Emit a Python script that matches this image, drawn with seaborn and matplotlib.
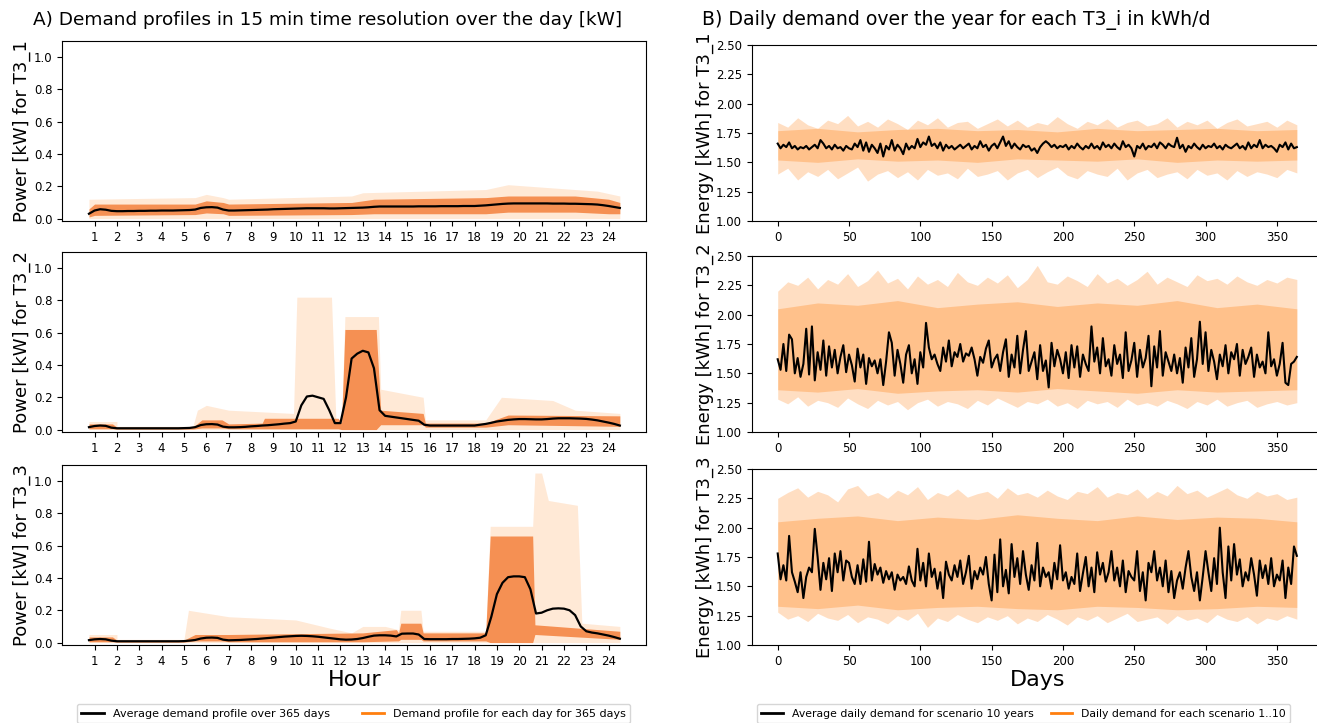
import numpy as np
import pandas as pd
import seaborn as sns
import matplotlib.pyplot as plt
from matplotlib.lines import Line2D

# ---- A) daily profiles, 15 min steps (0.75 h .. 24.5 h) ----
hours = np.arange(0.75, 24.51, 0.25)

avg_t31 = [0.030,
           0.050, 0.058, 0.055, 0.048, 0.046, 0.046, 0.047, 0.047,
           0.048, 0.048, 0.049, 0.049, 0.050, 0.050, 0.050, 0.051,
           0.052, 0.053, 0.056, 0.066, 0.070, 0.071, 0.068, 0.056,
           0.050, 0.050, 0.051, 0.052, 0.053, 0.054, 0.055, 0.056,
           0.058, 0.059, 0.060, 0.061, 0.062, 0.063, 0.064, 0.064,
           0.064, 0.064, 0.063, 0.063, 0.064, 0.065, 0.066, 0.067,
           0.068, 0.070, 0.073, 0.075, 0.075, 0.075, 0.075, 0.075,
           0.075, 0.075, 0.076, 0.076, 0.076, 0.076, 0.077, 0.077,
           0.077, 0.077, 0.078, 0.078, 0.078, 0.080, 0.082, 0.085,
           0.088, 0.091, 0.093, 0.094, 0.094, 0.094, 0.094, 0.094,
           0.094, 0.094, 0.093, 0.093, 0.093, 0.092, 0.092, 0.091,
           0.090, 0.089, 0.087, 0.083, 0.078, 0.072, 0.066]
avg_t32 = [0.015,
           0.022, 0.025, 0.023, 0.012, 0.008, 0.008, 0.008, 0.008,
           0.008, 0.008, 0.008, 0.008, 0.008, 0.008, 0.008, 0.008,
           0.009, 0.010, 0.015, 0.028, 0.033, 0.034, 0.031, 0.018,
           0.014, 0.014, 0.015, 0.017, 0.020, 0.022, 0.025, 0.027,
           0.030, 0.033, 0.037, 0.040, 0.050, 0.150, 0.205, 0.210,
           0.200, 0.190, 0.120, 0.040, 0.040, 0.200, 0.440, 0.470,
           0.488, 0.478, 0.380, 0.120, 0.085, 0.080, 0.075, 0.070,
           0.065, 0.060, 0.055, 0.030, 0.025, 0.025, 0.025, 0.025,
           0.025, 0.025, 0.025, 0.025, 0.025, 0.030, 0.035, 0.042,
           0.050, 0.055, 0.060, 0.063, 0.065, 0.065, 0.064, 0.063,
           0.063, 0.065, 0.068, 0.070, 0.070, 0.070, 0.069, 0.068,
           0.066, 0.062, 0.057, 0.050, 0.043, 0.035, 0.025]
avg_t33 = [0.015,
           0.020, 0.022, 0.020, 0.012, 0.008, 0.008, 0.008, 0.008,
           0.008, 0.008, 0.008, 0.008, 0.008, 0.008, 0.008, 0.008,
           0.009, 0.012, 0.016, 0.025, 0.030, 0.031, 0.029, 0.018,
           0.014, 0.015, 0.016, 0.018, 0.020, 0.022, 0.025, 0.028,
           0.031, 0.034, 0.037, 0.039, 0.041, 0.042, 0.041, 0.039,
           0.036, 0.032, 0.028, 0.024, 0.020, 0.018, 0.019, 0.022,
           0.028, 0.036, 0.043, 0.045, 0.045, 0.043, 0.038, 0.055,
           0.056, 0.056, 0.050, 0.022, 0.021, 0.021, 0.021, 0.021,
           0.022, 0.022, 0.023, 0.024, 0.026, 0.030, 0.045, 0.160,
           0.300, 0.370, 0.405, 0.410, 0.410, 0.405, 0.330, 0.180,
           0.185, 0.200, 0.210, 0.212, 0.210, 0.200, 0.170, 0.100,
           0.070, 0.062, 0.057, 0.050, 0.043, 0.034, 0.024]

# faint upper envelope of the 365 daily profiles
peak_x_t31 = [0.75, 5.5, 6.0, 6.75, 7.0, 12.5, 13.0, 18.5, 19.5, 21.5, 23.5, 24.5]
peak_hi_t31 = [0.12, 0.13, 0.15, 0.13, 0.12, 0.14, 0.16, 0.18, 0.21, 0.19, 0.17, 0.14]
peak_x_t32 = [0.75, 2.0, 2.0, 5.4, 5.6, 6.0, 7.0, 9.9, 10.05, 11.6, 11.8, 12.05,
              12.2, 13.7, 13.8, 15.7, 15.8, 18.5, 19.2, 21.5, 22.5, 24.5]
peak_hi_t32 = [0.05, 0.05, 0.02, 0.02, 0.12, 0.15, 0.12, 0.10, 0.82, 0.82, 0.05, 0.05,
               0.70, 0.70, 0.25, 0.20, 0.06, 0.06, 0.20, 0.18, 0.12, 0.10]
peak_x_t33 = [0.75, 2.0, 2.0, 5.0, 5.2, 7.0, 10.0, 11.5, 12.5, 13.0, 14.0, 14.6,
              14.7, 15.6, 15.7, 18.5, 18.7, 20.6, 20.7, 21.0, 21.3, 22.6, 22.8, 24.5]
peak_hi_t33 = [0.05, 0.05, 0.02, 0.02, 0.20, 0.16, 0.14, 0.09, 0.06, 0.10, 0.10, 0.08,
               0.20, 0.20, 0.07, 0.07, 0.72, 0.72, 1.05, 1.05, 0.88, 0.85, 0.12, 0.10]

# dense core of the daily profiles
core_x_t31 = [0.75, 1.0, 5.5, 6.0, 6.75, 7.0, 12.5, 13.5, 18.5, 19.5, 22.5, 24.0, 24.5]
core_lo_t31 = [0.01, 0.02, 0.025, 0.035, 0.03, 0.02, 0.025, 0.03, 0.03, 0.04, 0.04, 0.03, 0.03]
core_hi_t31 = [0.06, 0.09, 0.09, 0.11, 0.10, 0.09, 0.10, 0.12, 0.13, 0.14, 0.14, 0.12, 0.10]
core_x_t32 = [0.75, 1.8, 2.0, 5.4, 5.8, 6.7, 7.0, 8.5, 8.6, 11.9, 12.05, 12.2, 13.6,
              13.8, 15.7, 15.8, 18.5, 19.5, 24.5]
core_lo_t32 = [0.005, 0.005, 0.003, 0.003, 0.01, 0.01, 0.005, 0.005, 0.005, 0.005, 0.0,
               0.0, 0.0, 0.03, 0.03, 0.015, 0.015, 0.03, 0.02]
core_hi_t32 = [0.035, 0.035, 0.015, 0.015, 0.06, 0.06, 0.035, 0.04, 0.07, 0.07, 0.04,
               0.62, 0.62, 0.12, 0.10, 0.04, 0.04, 0.09, 0.085]
core_x_t33 = [0.75, 1.8, 2.0, 5.0, 5.5, 6.7, 7.0, 13.0, 14.5, 14.6, 14.7, 15.6, 15.7,
              18.5, 18.7, 20.6, 20.7, 24.5]
core_lo_t33 = [0.005, 0.005, 0.003, 0.003, 0.01, 0.01, 0.005, 0.005, 0.01, 0.01, 0.02,
               0.02, 0.01, 0.01, 0.0, 0.0, 0.05, 0.02]
core_hi_t33 = [0.035, 0.035, 0.015, 0.015, 0.05, 0.05, 0.05, 0.06, 0.08, 0.06, 0.12,
               0.12, 0.06, 0.06, 0.66, 0.66, 0.11, 0.07]

# ---- B) daily energy over the year (read every 2nd day) ----
days = np.arange(0, 365, 2)
daily_t31 = [1.66, 1.62, 1.65, 1.63, 1.67, 1.62, 1.64, 1.61, 1.63, 1.62,
             1.64, 1.61, 1.63, 1.65, 1.62, 1.69, 1.66, 1.62, 1.64, 1.61,
             1.65, 1.62, 1.63, 1.60, 1.64, 1.62, 1.61, 1.66, 1.63, 1.69,
             1.60, 1.67, 1.59, 1.65, 1.62, 1.58, 1.66, 1.55, 1.64, 1.61,
             1.69, 1.60, 1.65, 1.62, 1.57, 1.66, 1.61, 1.64, 1.62, 1.70,
             1.63, 1.67, 1.65, 1.72, 1.64, 1.66, 1.62, 1.67, 1.60, 1.65,
             1.62, 1.64, 1.61, 1.63, 1.65, 1.62, 1.64, 1.66, 1.61, 1.64,
             1.62, 1.68, 1.63, 1.65, 1.60, 1.64, 1.66, 1.62, 1.67, 1.72,
             1.64, 1.68, 1.62, 1.66, 1.63, 1.61, 1.65, 1.63, 1.64, 1.60,
             1.62, 1.58, 1.63, 1.66, 1.68, 1.66, 1.63, 1.65, 1.62, 1.64,
             1.63, 1.65, 1.61, 1.64, 1.62, 1.66, 1.63, 1.61, 1.64, 1.62,
             1.66, 1.62, 1.64, 1.61, 1.67, 1.63, 1.65, 1.62, 1.66, 1.63,
             1.61, 1.68, 1.63, 1.65, 1.62, 1.55, 1.64, 1.62, 1.66, 1.61,
             1.64, 1.63, 1.66, 1.62, 1.67, 1.65, 1.62, 1.66, 1.64, 1.63,
             1.71, 1.62, 1.65, 1.59, 1.64, 1.62, 1.66, 1.63, 1.61, 1.65,
             1.62, 1.64, 1.63, 1.66, 1.62, 1.64, 1.61, 1.65, 1.63, 1.62,
             1.64, 1.66, 1.62, 1.64, 1.61, 1.67, 1.62, 1.65, 1.63, 1.69,
             1.62, 1.65, 1.63, 1.64, 1.62, 1.59, 1.65, 1.63, 1.67, 1.61,
             1.66, 1.62, 1.63]
daily_t32 = [1.62, 1.53, 1.75, 1.52, 1.83, 1.79, 1.50, 1.63, 1.47, 1.58,
             1.88, 1.49, 1.90, 1.44, 1.68, 1.53, 1.78, 1.48, 1.73, 1.55,
             1.70, 1.50, 1.64, 1.74, 1.51, 1.66, 1.57, 1.43, 1.71, 1.55,
             1.66, 1.41, 1.63, 1.56, 1.61, 1.50, 1.62, 1.40, 1.60, 1.85,
             1.76, 1.48, 1.70, 1.58, 1.42, 1.66, 1.74, 1.50, 1.62, 1.41,
             1.68, 1.55, 1.93, 1.72, 1.62, 1.66, 1.58, 1.52, 1.72, 1.60,
             1.78, 1.56, 1.68, 1.64, 1.75, 1.60, 1.67, 1.65, 1.72, 1.62,
             1.48, 1.64, 1.59, 1.71, 1.78, 1.55, 1.62, 1.66, 1.52, 1.68,
             1.79, 1.47, 1.66, 1.55, 1.82, 1.50, 1.70, 1.86, 1.52, 1.60,
             1.68, 1.45, 1.74, 1.52, 1.61, 1.38, 1.76, 1.56, 1.70, 1.62,
             1.50, 1.68, 1.46, 1.74, 1.55, 1.73, 1.47, 1.66, 1.58, 1.52,
             1.90, 1.60, 1.72, 1.50, 1.80, 1.56, 1.62, 1.48, 1.74, 1.58,
             1.66, 1.46, 1.85, 1.52, 1.61, 1.76, 1.47, 1.70, 1.55, 1.63,
             1.82, 1.39, 1.73, 1.55, 1.86, 1.48, 1.68, 1.60, 1.52, 1.66,
             1.50, 1.63, 1.42, 1.72, 1.55, 1.80, 1.47, 1.62, 1.94, 1.58,
             1.85, 1.52, 1.70, 1.60, 1.45, 1.66, 1.56, 1.74, 1.50, 1.68,
             1.62, 1.75, 1.48, 1.70, 1.58, 1.64, 1.72, 1.47, 1.66, 1.55,
             1.60, 1.50, 1.85, 1.56, 1.62, 1.48, 1.58, 1.76, 1.42, 1.40,
             1.58, 1.60, 1.64]
daily_t33 = [1.78, 1.56, 1.68, 1.55, 1.93, 1.62, 1.54, 1.45, 1.62, 1.40,
             1.58, 1.66, 1.62, 1.99, 1.75, 1.47, 1.70, 1.56, 1.74, 1.46,
             1.78, 1.62, 1.80, 1.55, 1.72, 1.70, 1.58, 1.52, 1.68, 1.52,
             1.73, 1.54, 1.88, 1.55, 1.69, 1.60, 1.66, 1.53, 1.63, 1.56,
             1.62, 1.47, 1.60, 1.55, 1.58, 1.52, 1.67, 1.55, 1.50, 1.82,
             1.55, 1.70, 1.50, 1.78, 1.58, 1.65, 1.48, 1.62, 1.40, 1.71,
             1.60, 1.55, 1.68, 1.58, 1.72, 1.52, 1.62, 1.76, 1.48, 1.63,
             1.56, 1.66, 1.60, 1.75, 1.52, 1.38, 1.77, 1.45, 1.90, 1.50,
             1.64, 1.44, 1.86, 1.58, 1.74, 1.52, 1.80, 1.60, 1.47, 1.68,
             1.55, 1.87, 1.50, 1.66, 1.58, 1.62, 1.48, 1.70, 1.56, 1.85,
             1.55, 1.62, 1.48, 1.58, 1.52, 1.78, 1.46, 1.61, 1.75, 1.50,
             1.66, 1.45, 1.79, 1.60, 1.70, 1.54, 1.62, 1.80, 1.55, 1.66,
             1.50, 1.72, 1.45, 1.63, 1.58, 1.55, 1.80, 1.46, 1.62, 1.38,
             1.70, 1.62, 1.80, 1.55, 1.66, 1.50, 1.72, 1.45, 1.63, 1.40,
             1.55, 1.62, 1.48, 1.66, 1.80, 1.58, 1.46, 1.62, 1.38, 1.58,
             1.80, 1.62, 1.46, 1.74, 1.52, 2.00, 1.62, 1.40, 1.84, 1.55,
             1.86, 1.60, 1.73, 1.50, 1.62, 1.55, 1.74, 1.60, 1.42, 1.72,
             1.57, 1.68, 1.52, 1.74, 1.50, 1.60, 1.55, 1.72, 1.40, 1.66,
             1.52, 1.84, 1.76]

# spread of the 10 scenarios (outer, weekly) and dense part (every 4 weeks)
week_days = np.arange(0, 365, 7)
hi_t31 = [1.84, 1.80, 1.88, 1.82, 1.79, 1.86, 1.83, 1.90, 1.81, 1.85, 1.80, 1.87, 1.83, 1.78,
          1.86, 1.82, 1.88, 1.80, 1.84, 1.85, 1.79, 1.83, 1.87, 1.81, 1.86, 1.80, 1.84, 1.82,
          1.89, 1.83, 1.79, 1.85, 1.82, 1.87, 1.80, 1.84, 1.86, 1.81, 1.83, 1.88, 1.80, 1.85,
          1.82, 1.86, 1.79, 1.84, 1.87, 1.81, 1.83, 1.85, 1.80, 1.86, 1.82]
lo_t31 = [1.40, 1.45, 1.35, 1.42, 1.38, 1.44, 1.36, 1.41, 1.46, 1.34, 1.40, 1.43, 1.37, 1.42,
          1.35, 1.44, 1.39, 1.41, 1.36, 1.45, 1.38, 1.40, 1.43, 1.35, 1.41, 1.44, 1.37, 1.42,
          1.46, 1.39, 1.36, 1.43, 1.40, 1.38, 1.45, 1.35, 1.41, 1.44, 1.37, 1.40, 1.42, 1.36,
          1.44, 1.39, 1.41, 1.35, 1.43, 1.38, 1.42, 1.40, 1.37, 1.44, 1.41]
hi_t32 = [2.20, 2.28, 2.25, 2.32, 2.22, 2.30, 2.26, 2.35, 2.24, 2.29, 2.38, 2.27, 2.31, 2.22,
          2.33, 2.26, 2.30, 2.24, 2.36, 2.28, 2.25, 2.32, 2.27, 2.34, 2.23, 2.30, 2.42, 2.28,
          2.26, 2.33, 2.29, 2.24, 2.35, 2.27, 2.31, 2.25, 2.30, 2.37, 2.26, 2.32, 2.28, 2.24,
          2.34, 2.29, 2.31, 2.26, 2.33, 2.28, 2.25, 2.30, 2.27, 2.32, 2.30]
lo_t32 = [1.28, 1.24, 1.30, 1.22, 1.27, 1.25, 1.21, 1.29, 1.24, 1.20, 1.27, 1.23, 1.26, 1.19,
          1.25, 1.28, 1.22, 1.26, 1.24, 1.20, 1.27, 1.23, 1.29, 1.25, 1.21, 1.26, 1.24, 1.28,
          1.22, 1.25, 1.20, 1.27, 1.24, 1.26, 1.21, 1.28, 1.23, 1.25, 1.22, 1.27, 1.24, 1.20,
          1.26, 1.23, 1.28, 1.22, 1.25, 1.27, 1.21, 1.24, 1.26, 1.23, 1.25]
hi_t33 = [2.25, 2.30, 2.34, 2.26, 2.31, 2.28, 2.22, 2.33, 2.36, 2.27, 2.30, 2.25, 2.32, 2.28,
          2.35, 2.24, 2.30, 2.27, 2.33, 2.26, 2.29, 2.31, 2.25, 2.34, 2.28, 2.30, 2.26, 2.32,
          2.27, 2.24, 2.31, 2.29, 2.35, 2.26, 2.30, 2.28, 2.33, 2.25, 2.31, 2.27, 2.36, 2.29,
          2.32, 2.26, 2.30, 2.34, 2.28, 2.25, 2.31, 2.27, 2.29, 2.24, 2.26]
lo_t33 = [1.28, 1.22, 1.25, 1.20, 1.27, 1.23, 1.21, 1.26, 1.19, 1.24, 1.22, 1.18, 1.25, 1.21,
          1.27, 1.15, 1.23, 1.20, 1.26, 1.22, 1.19, 1.24, 1.21, 1.25, 1.18, 1.23, 1.20, 1.26,
          1.22, 1.17, 1.24, 1.21, 1.25, 1.19, 1.23, 1.27, 1.20, 1.22, 1.24, 1.18, 1.25, 1.21,
          1.23, 1.19, 1.26, 1.22, 1.20, 1.24, 1.18, 1.23, 1.21, 1.25, 1.22]

month_days = np.arange(0, 365, 28)
in_lo_t31 = [1.52, 1.50, 1.53, 1.51, 1.52, 1.50, 1.53, 1.52, 1.51, 1.53, 1.50, 1.52, 1.51, 1.52]
in_hi_t31 = [1.77, 1.79, 1.76, 1.78, 1.79, 1.77, 1.78, 1.76, 1.79, 1.77, 1.78, 1.79, 1.77, 1.78]
in_lo_t32 = [1.36, 1.34, 1.37, 1.33, 1.35, 1.36, 1.34, 1.37, 1.35, 1.33, 1.36, 1.34, 1.35, 1.36]
in_hi_t32 = [2.05, 2.10, 2.08, 2.12, 2.06, 2.09, 2.11, 2.07, 2.10, 2.08, 2.12, 2.06, 2.09, 2.05]
in_lo_t33 = [1.33, 1.31, 1.34, 1.30, 1.32, 1.33, 1.31, 1.30, 1.33, 1.32, 1.30, 1.31, 1.33, 1.32]
in_hi_t33 = [2.05, 2.08, 2.10, 2.06, 2.09, 2.07, 2.11, 2.08, 2.06, 2.10, 2.07, 2.09, 2.08, 2.05]

profiles = [
    ("T3_1", avg_t31, peak_x_t31, peak_hi_t31, core_x_t31, core_lo_t31, core_hi_t31),
    ("T3_2", avg_t32, peak_x_t32, peak_hi_t32, core_x_t32, core_lo_t32, core_hi_t32),
    ("T3_3", avg_t33, peak_x_t33, peak_hi_t33, core_x_t33, core_lo_t33, core_hi_t33),
]
yearly = [
    ("T3_1", daily_t31, lo_t31, hi_t31, in_lo_t31, in_hi_t31),
    ("T3_2", daily_t32, lo_t32, hi_t32, in_lo_t32, in_hi_t32),
    ("T3_3", daily_t33, lo_t33, hi_t33, in_lo_t33, in_hi_t33),
]

ORANGE = "#ff7f0e"
CORE = "#f26a1b"

fig = plt.figure(figsize=(13.17, 7.23), dpi=100)
bottoms = [0.6943, 0.4025, 0.1079]

# left column: demand profiles over the day
for i, (name, avg, px, phi, cx, clo, chi) in enumerate(profiles):
    ax = fig.add_axes([0.0474, bottoms[i], 0.4434, 0.249])
    ax.fill_between(px, 0, phi, color=ORANGE, alpha=0.17, lw=0)
    ax.fill_between(cx, clo, chi, color=CORE, alpha=0.7, lw=0)
    sns.lineplot(x=hours, y=avg, color="black", lw=1.6, ax=ax, legend=False)
    ax.set_xticks(range(1, 25))
    ax.set_ylim(-0.015, 1.1)
    ax.set_yticks([0.0, 0.2, 0.4, 0.6, 0.8, 1.0])
    ax.yaxis.set_major_formatter(plt.FormatStrFormatter("%.1f"))
    ax.tick_params(labelsize=8.5)
    ax.set_ylabel(f"Power [kW] for {name}", fontsize=13)
    ax.yaxis.set_label_coords(-0.053, 0.5)
    ax.set_xlabel("")
    if i == 2:
        ax.set_xlabel("Hour", fontsize=16, labelpad=2)

# right column: daily demand over the year
for i, (name, daily, lo, hi, ilo, ihi) in enumerate(yearly):
    ax = fig.add_axes([0.5708, bottoms[i], 0.4336, 0.2434])
    ax.fill_between(week_days, lo, hi, color=ORANGE, alpha=0.25, lw=0)
    ax.fill_between(month_days, ilo, ihi, color=ORANGE, alpha=0.3, lw=0)
    sns.lineplot(x=days, y=daily, color="black", lw=1.5, ax=ax, legend=False)
    ax.set_ylim(1.0, 2.5)
    ax.set_yticks([1.0, 1.25, 1.5, 1.75, 2.0, 2.25, 2.5])
    ax.yaxis.set_major_formatter(plt.FormatStrFormatter("%.2f"))
    ax.set_xticks([0, 50, 100, 150, 200, 250, 300, 350])
    ax.tick_params(labelsize=8.5)
    ax.set_ylabel(f"Energy [kWh] for {name}", fontsize=13)
    ax.yaxis.set_label_coords(-0.066, 0.5)
    ax.set_xlabel("")
    if i == 2:
        ax.set_xlabel("Days", fontsize=16, labelpad=2)

fig.text(0.249, 0.972, "A) Demand profiles in 15 min time resolution over the day [kW]",
         ha="center", va="center", fontsize=13.3)
fig.text(0.726, 0.972, "B) Daily demand over the year for each T3_i in kWh/d",
         ha="center", va="center", fontsize=13.6)

h_black = Line2D([], [], color="black", lw=2)
h_orange = Line2D([], [], color=ORANGE, lw=2)
fig.legend([h_black, h_orange],
           ["Average demand profile over 365 days", "Demand profile for each day for 365 days"],
           loc="upper left", bbox_to_anchor=(0.0585, 0.0, 0.42, 0.026), mode="expand",
           ncol=2, fontsize=8, borderaxespad=0, handlelength=2)
fig.legend([h_black, h_orange],
           ["Average daily demand for scenario 10 years", "Daily demand for each scenario 1..10"],
           loc="upper left", bbox_to_anchor=(0.5748, 0.0, 0.44, 0.026),
           ncol=2, fontsize=7.8, borderaxespad=0, handlelength=2, columnspacing=1.6)

fig.savefig("out.png", dpi=100)
